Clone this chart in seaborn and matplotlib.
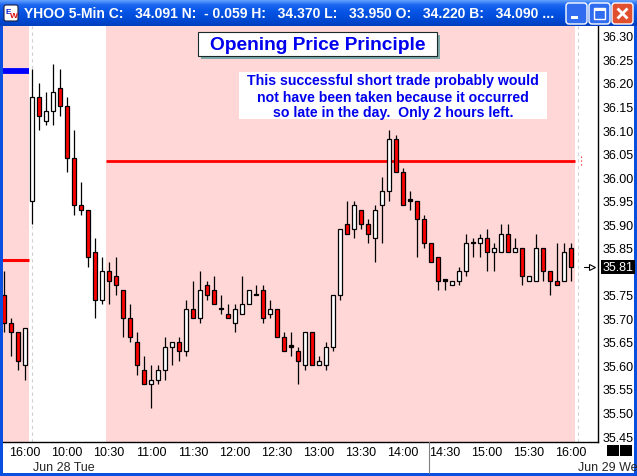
import numpy as np
import pandas as pd
import matplotlib.pyplot as plt
import seaborn as sns
from matplotlib.patches import Rectangle, FancyBboxPatch
from matplotlib.colors import LinearSegmentedColormap

# YHOO 5-min bars: last 4 bars of the prior session, then the Jun 28 session
opens = [35.75, 35.69, 35.67, 35.60,
         35.95, 36.17, 36.12, 36.14, 36.19, 36.15, 36.04, 35.94, 35.93, 35.84,
         35.74, 35.80, 35.79, 35.76, 35.70, 35.65, 35.59, 35.56, 35.57, 35.59,
         35.64, 35.65, 35.63, 35.72, 35.70, 35.77, 35.76, 35.72, 35.71, 35.69,
         35.71, 35.73, 35.75, 35.76, 35.71, 35.72, 35.66, 35.64, 35.63, 35.60,
         35.67, 35.60, 35.60, 35.64, 35.75, 35.90, 35.89, 35.93, 35.90, 35.87,
         35.94, 35.97, 36.08, 36.01, 35.95, 35.95, 35.91, 35.86, 35.83, 35.78,
         35.77, 35.78, 35.80, 35.86, 35.86, 35.87, 35.84, 35.84, 35.88, 35.84,
         35.85, 35.78, 35.78, 35.85, 35.80, 35.78, 35.78, 35.85]
highs = [35.80, 35.70, 35.67, 35.68,
         36.23, 36.20, 36.18, 36.24, 36.23, 36.17, 36.10, 35.99, 35.93, 35.87,
         35.83, 35.82, 35.83, 35.76, 35.73, 35.67, 35.62, 35.60, 35.60, 35.66,
         35.65, 35.66, 35.74, 35.78, 35.80, 35.78, 35.79, 35.75, 35.73, 35.73,
         35.79, 35.76, 35.77, 35.77, 35.74, 35.72, 35.67, 35.67, 35.64, 35.67,
         35.67, 35.62, 35.65, 35.75, 35.89, 35.95, 35.95, 35.93, 35.91, 35.94,
         36.00, 36.10, 36.09, 36.02, 35.97, 35.95, 35.92, 35.86, 35.83, 35.78,
         35.78, 35.81, 35.88, 35.87, 35.88, 35.89, 35.86, 35.90, 35.90, 35.87,
         35.85, 35.79, 35.88, 35.85, 35.80, 35.86, 35.86, 35.86]
lows = [35.67, 35.62, 35.59, 35.57,
        35.90, 36.10, 36.11, 36.11, 36.13, 36.01, 35.92, 35.92, 35.81, 35.70,
        35.73, 35.73, 35.75, 35.66, 35.65, 35.58, 35.56, 35.51, 35.56, 35.57,
        35.60, 35.61, 35.62, 35.70, 35.69, 35.74, 35.73, 35.71, 35.70, 35.67,
        35.71, 35.73, 35.75, 35.69, 35.70, 35.66, 35.63, 35.62, 35.56, 35.59,
        35.60, 35.60, 35.59, 35.63, 35.74, 35.88, 35.87, 35.89, 35.86, 35.82,
        35.86, 35.95, 36.01, 35.94, 35.93, 35.83, 35.85, 35.82, 35.76, 35.76,
        35.77, 35.77, 35.79, 35.83, 35.83, 35.80, 35.80, 35.84, 35.84, 35.84,
        35.77, 35.78, 35.78, 35.78, 35.75, 35.77, 35.78, 35.78]
closes = [35.69, 35.67, 35.61, 35.68,
          36.17, 36.13, 36.14, 36.18, 36.15, 36.04, 35.94, 35.93, 35.83, 35.74,
          35.80, 35.78, 35.77, 35.70, 35.66, 35.60, 35.56, 35.57, 35.59, 35.64,
          35.65, 35.63, 35.72, 35.70, 35.76, 35.75, 35.73, 35.72, 35.70, 35.72,
          35.73, 35.76, 35.75, 35.70, 35.72, 35.66, 35.63, 35.64, 35.61, 35.67,
          35.60, 35.61, 35.64, 35.75, 35.89, 35.88, 35.94, 35.90, 35.88, 35.93,
          35.97, 36.08, 36.01, 35.94, 35.95, 35.91, 35.86, 35.82, 35.78, 35.78,
          35.78, 35.80, 35.86, 35.86, 35.87, 35.84, 35.85, 35.88, 35.84, 35.85,
          35.79, 35.79, 35.85, 35.80, 35.78, 35.77, 35.84, 35.81]

tick_bars = [3, 9, 15, 21, 27, 33, 39, 45, 51, 57, 63, 69, 75, 81]
tick_labels = ['16:00', '10:00', '10:30', '11:00', '11:30', '12:00', '12:30',
               '13:00', '13:30', '14:00', '14:30', '15:00', '15:30', '16:00']
price_ticks = [35.45, 35.50, 35.55, 35.60, 35.65, 35.70, 35.75, 35.80, 35.85,
               35.90, 35.95, 36.00, 36.05, 36.10, 36.15, 36.20, 36.25, 36.30]

prior_close = 35.823
first_bar_high = 36.226
short_level = 36.034
last_price = 35.81

df = pd.DataFrame({'open': opens, 'high': highs, 'low': lows, 'close': closes})
df['bar'] = np.arange(len(df))

sns.set_style('white')
plt.rcParams['font.family'] = ['Liberation Sans', 'DejaVu Sans']

W, H = 637, 477
fig = plt.figure(figsize=(W / 100, H / 100), dpi=100)
fig.patch.set_facecolor('white')

# main price panel, placed in pixels
ax = fig.add_axes([3 / W, (H - 443) / H, 595 / W, 416 / H])
ax.set_facecolor('white')
ax.set_xlim(-0.143, 84.86)
ax.set_ylim(35.4373, 36.321)

pink = '#ffd7d7'
ax.axvspan(-0.5, 3.57, color=pink, lw=0, zorder=0)
ax.axvspan(14.57, 81.57, color=pink, lw=0, zorder=0)
for xv in [4, 82]:
    ax.axvline(xv, color='#d0d0d0', lw=0.8, ls=(0, (3, 3)), zorder=1)

ax.hlines(first_bar_high, -0.5, 3.57, color='#0000ff', lw=4.2, zorder=2)
ax.hlines(prior_close, -0.5, 3.57, color='#ff0000', lw=2.2, zorder=2)
ax.hlines(short_level, 14.57, 81.57, color='#ff0000', lw=2.0, zorder=2)
ax.vlines(82.5, 36.026, 36.044, color='#ff0000', lw=0.8, ls=(0, (1, 2.5)), zorder=2)

# candles
body_lo = df[['open', 'close']].min(axis=1)
body_h = (df['close'] - df['open']).abs().clip(lower=0.0025)
colors = np.where(df['close'] > df['open'], 'white',
                  np.where(df['close'] < df['open'], '#ff0000', 'black'))
ax.vlines(df['bar'], df['low'], df['high'], color='black', lw=0.9, zorder=3)
ax.bar(df['bar'], body_h, bottom=body_lo, width=0.62, color=colors,
       edgecolor='black', lw=0.9, zorder=4)

# axes styling
for side in ['left', 'top']:
    ax.spines[side].set_visible(False)
for side in ['right', 'bottom']:
    ax.spines[side].set_color('black')
    ax.spines[side].set_linewidth(1.0)
ax.yaxis.tick_right()
ax.set_yticks(price_ticks)
# the 35.80 label sits under the last-price flag
ax.set_yticklabels(['' if abs(p - 35.80) < 1e-6 else f'{p:.2f}' for p in price_ticks])
ax.set_xticks(tick_bars)
ax.set_xticklabels(tick_labels)
ax.tick_params(axis='y', length=0, pad=3.5, labelsize=9, colors='black')
ax.tick_params(axis='x', length=0, pad=3, labelsize=9, colors='black')
ax.grid(False)

# window chrome, drawn in pixel coords on an overlay
ov = fig.add_axes([0, 0, 1, 1], zorder=10)
ov.axis('off')
ov.patch.set_alpha(0)

grad = np.linspace(0, 1, 27).reshape(-1, 1)
xp = LinearSegmentedColormap.from_list('xp', ['#6aa8ff', '#1f68f0', '#0a58e8',
                                              '#0350e0', '#0048d0', '#0040c0'])
ov.imshow(grad, cmap=xp, aspect='auto', extent=(0, W, 27, 0), zorder=1)
ov.add_patch(Rectangle((0, 27), 3, H - 27, color='#0a50e0', lw=0, zorder=1))
ov.add_patch(Rectangle((W - 3, 27), 3, H - 27, color='#0a50e0', lw=0, zorder=1))
ov.add_patch(Rectangle((0, H - 3), W, 3, color='#0a50e0', lw=0, zorder=1))
ov.set_xlim(0, W)
ov.set_ylim(H, 0)

# icon
ov.add_patch(FancyBboxPatch((4, 6), 14, 16, boxstyle='round,pad=0,rounding_size=2',
                            fc='white', ec='#202040', lw=0.8, zorder=2))
ov.text(8, 12, 'E', color='#1020d0', fontsize=6, fontweight='bold', ha='center', va='center', zorder=3)
ov.text(13.5, 17, 'W', color='#e01010', fontsize=6, fontweight='bold', ha='center', va='center', zorder=3)

ov.text(24, 14, 'YHOO 5-Min C:   34.091 N:  - 0.059 H:   34.370 L:   33.950 O:   34.220 B:   34.090 ...',
        color='white', fontsize=10, fontweight='bold', ha='left', va='center', zorder=3)

# title bar buttons
for bx, fc in [(566, '#2f6cf0'), (589, '#2f6cf0'), (612, '#e0502e')]:
    ov.add_patch(FancyBboxPatch((bx, 4), 21, 21, boxstyle='round,pad=0,rounding_size=3',
                                fc=fc, ec='white', lw=1.0, zorder=2))
ov.add_patch(Rectangle((571, 17), 7, 2.5, color='white', lw=0, zorder=3))
ov.add_patch(Rectangle((594, 9), 11, 11, fill=False, ec='white', lw=1.0, zorder=3))
ov.add_patch(Rectangle((594, 9), 11, 2.5, color='white', lw=0, zorder=3))
ov.plot([617.5, 627.5], [9.5, 19.5], color='white', lw=2, zorder=3, solid_capstyle='butt')
ov.plot([617.5, 627.5], [19.5, 9.5], color='white', lw=2, zorder=3, solid_capstyle='butt')

# chart title boxes
ov.add_patch(Rectangle((201, 36), 239, 24, fc='#80a8a8', lw=0, zorder=2))
ov.add_patch(Rectangle((198, 33), 239, 24, fc='white', ec='#1a2a2a', lw=0.8, zorder=3))
ov.text(317.5, 45.5, 'Opening Price Principle', color='#0000ee', fontsize=13.8,
        fontweight='bold', ha='center', va='center', zorder=4)

ov.add_patch(Rectangle((239, 73), 308, 47, fc='white', lw=0, zorder=2))
note = ['This successful short trade probably would',
        'not have been taken because it occurred',
        'so late in the day.  Only 2 hours left.']
for i, line in enumerate(note):
    ov.text(393, 81.5 + 16 * i, line, color='#0000ee', fontsize=10.2,
            fontweight='bold', ha='center', va='center', zorder=4)

# last price flag and marker
ov.add_patch(Rectangle((601, 261), 34, 13.5, fc='black', lw=0, zorder=2))
ov.text(602.5, 268, f'{last_price:.2f}', color='white', fontsize=9, ha='left', va='center', zorder=3)
ov.plot([584, 590], [268, 268], color='black', lw=0.8, zorder=3)
ov.plot([592], [268], marker='>', ms=5, mfc='white', mec='black', mew=0.8, zorder=3)

# date row, divider, corner squares
ov.text(33, 468, 'Jun 28 Tue', fontsize=9, ha='left', va='center', zorder=3)
ov.text(578, 468, 'Jun 29 We', fontsize=9, ha='left', va='center', zorder=3)
ov.plot([429, 429], [443, 474], color='#808080', lw=0.8, zorder=2)
ov.add_patch(Rectangle((607, 446), 12, 11, fc='black', lw=0, zorder=2))
ov.add_patch(Rectangle((620, 446), 12, 11, fc='black', lw=0, zorder=2))

fig.savefig('out.png', dpi=100)
